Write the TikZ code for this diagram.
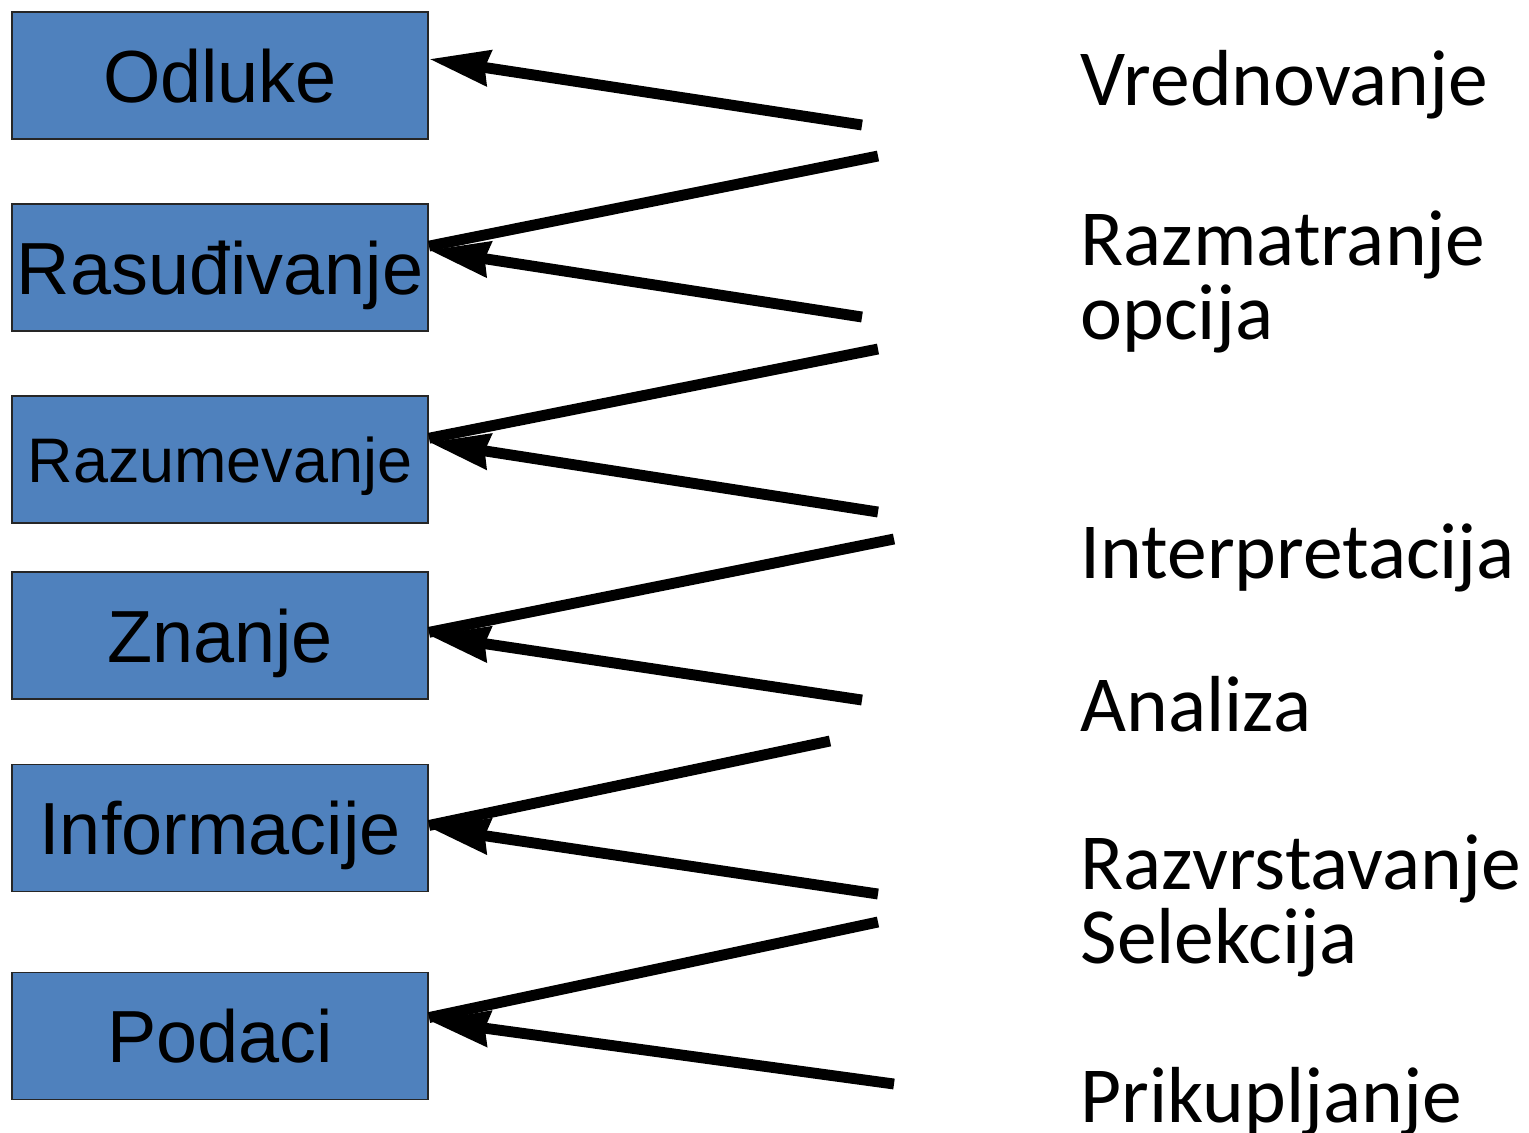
\documentclass[tikz,border=0pt]{standalone}
\usepackage{fontspec}
\usetikzlibrary{arrows.meta}
\newfontfamily\boxfont{Liberation Sans}
\newfontfamily\labelfont{Carlito}
\definecolor{boxblue}{HTML}{4F81BD}
\tikzstyle{level} = [rectangle, minimum width=4.16cm, minimum height=1.27cm, inner sep=0pt, text height=0.53cm, text depth=0pt, draw=black!85, line width=0.5pt, fill=boxblue, font=\boxfont\fontsize{21}{25}\selectfont]
\tikzstyle{stage} = [anchor=base west, inner sep=0pt, align=left, font=\labelfont\fontsize{22.6}{20.8}\selectfont]
\tikzstyle{link} = [line width=3.1pt]
\tikzstyle{arrow} = [line width=3.1pt, -{Stealth[length=17pt, width=9.8pt, inset=1pt]}]

\begin{document}
\begin{tikzpicture}[x=0.01cm, y=-0.01cm]
\useasboundingbox (0,0) rectangle (1529,1132);

%% NODES

\node (odluke) [level] at (220,75.5) {Odluke};
\node (rasudivanje) [level, below of=odluke, node distance=1.92cm] {Rasuđivanje};
\node (razumevanje) [level, below of=rasudivanje, node distance=1.92cm, text height=0.46cm, font=\boxfont\fontsize{17.9}{22}\selectfont] {Razumevanje};
\node (znanje) [level, below of=razumevanje, node distance=1.76cm] {Znanje};
\node (informacije) [level, below of=znanje, node distance=1.92cm] {Informacije};
\node (podaci) [level, below of=informacije, node distance=2.08cm] {Podaci};

% two-line labels sit on the baseline of their last line
\node (vrednovanje) [stage] at (1080,105) {Vrednovanje};
\node (razmatranje) [stage] at (1080,339) {Razmatranje\\opcija};
\node (interpretacija) [stage] at (1080,578) {Interpretacija};
\node (analiza) [stage] at (1080,731) {Analiza};
\node (razvrstavanje) [stage] at (1080,963) {Razvrstavanje\\Selekcija};
\node (prikupljanje) [stage] at (1080,1122) {Prikupljanje};

%% free ends of the connectors
\coordinate (a1) at (862,125);
\coordinate (l2) at (878,156);
\coordinate (a2) at (862,317);
\coordinate (l3) at (878,349);
\coordinate (a3) at (878,512);
\coordinate (l4) at (894,539);
\coordinate (a4) at (862,700);
\coordinate (l5) at (830,741);
\coordinate (a5) at (878,894);
\coordinate (l6) at (878,922);
\coordinate (a6) at (894,1084);

%% ARROWS

\draw [arrow] (a1) -- ([yshift=0.165cm]odluke.east);
\draw [link] ([yshift=0.215cm]rasudivanje.east) -- (l2);
\draw [arrow] (a2) -- ([yshift=0.175cm]rasudivanje.east);
\draw [link] ([yshift=0.215cm]razumevanje.east) -- (l3);
\draw [arrow] (a3) -- ([yshift=0.175cm]razumevanje.east);
\draw [link] ([yshift=0.035cm]znanje.east) -- (l4);
\draw [arrow] (a4) -- ([yshift=0.005cm]znanje.east);
\draw [link] ([yshift=0.025cm]informacije.east) -- (l5);
\draw [arrow] (a5) -- ([yshift=0.005cm]informacije.east);
\draw [link] ([yshift=0.185cm]podaci.east) -- (l6);
\draw [arrow] (a6) -- ([yshift=0.155cm]podaci.east);

\end{tikzpicture}
\end{document}
